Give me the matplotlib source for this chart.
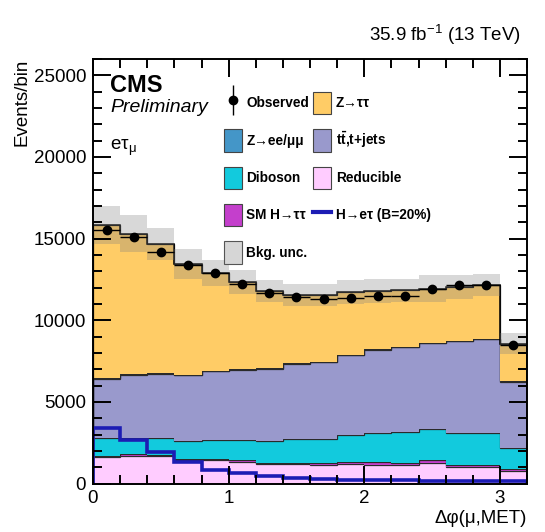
import numpy as np
import matplotlib
matplotlib.use("Agg")
import matplotlib.pyplot as plt
from matplotlib.patches import Patch
from matplotlib.lines import Line2D
from matplotlib.legend_handler import HandlerTuple
from matplotlib.ticker import MultipleLocator

plt.rcParams["font.family"] = ["Liberation Sans", "DejaVu Sans"]
plt.rcParams["mathtext.fontset"] = "custom"
plt.rcParams["mathtext.rm"] = "Liberation Sans"
plt.rcParams["mathtext.it"] = "Liberation Sans:italic"
plt.rcParams["mathtext.bf"] = "Liberation Sans:bold"
plt.rcParams["mathtext.default"] = "regular"

# bin edges of dphi(mu, MET)
edges = np.linspace(0, 3.2, 17)

# background processes, events per bin (stacked bottom -> top)
reducible = [1620, 1680, 1680, 1440, 1420, 1330, 1170, 1170, 1110, 1190, 1150, 1110, 1230, 1010, 1030, 760]
smh = [80, 120, 80, 80, 80, 110, 80, 100, 120, 120, 180, 160, 190, 140, 120, 130]
diboson = [1060, 1000, 1040, 1080, 1140, 1200, 1350, 1430, 1510, 1660, 1780, 1880, 1890, 1960, 1960, 1300]
ttbar = [3610, 3820, 3910, 4020, 4220, 4320, 4440, 4610, 4690, 4870, 5080, 5180, 5280, 5590, 5730, 4020]
zll = [100, 60, 50, 50, 40, 40, 40, 40, 40, 40, 40, 40, 40, 40, 40, 40]
ztt = [9340, 8620, 7930, 6800, 5990, 5340, 4710, 4180, 4100, 3850, 3560, 3460, 3310, 3300, 3280, 2320]

# background uncertainty (absolute)
bkg_unc = [1160, 1120, 980, 920, 820, 720, 700, 670, 670, 760, 710, 720, 810, 710, 650, 620]

# observed data
observed = [15550, 15100, 14180, 13360, 12920, 12240, 11670, 11410, 11330, 11370, 11470, 11470, 11910, 12140, 12180, 8490]

# LFV signal H -> e tau (B=20%)
signal = [3410, 2660, 1940, 1330, 840, 620, 440, 340, 280, 220, 200, 190, 180, 170, 160, 130]

TTBAR = r"t$\bar{t}$,t+jets"
stack = [
    (reducible, "#ffccff", "Reducible"),
    (smh, "#c43fcc", "SM H→ττ"),
    (diboson, "#12cadd", "Diboson"),
    (ttbar, "#9999cc", TTBAR),
    (zll, "#4496c8", "Z→ee/μμ"),
    (ztt, "#ffcc66", "Z→ττ"),
]

fig = plt.figure(figsize=(5.45, 5.32), dpi=100)
ax = fig.add_axes([93 / 545, 1 - 483.5 / 532, 434 / 545, (483.5 - 59) / 532])

base = np.zeros(len(edges) - 1)
handles = {}
for vals, color, label in stack:
    top = base + np.array(vals)
    ax.stairs(top, edges, baseline=base, fill=True, color=color)
    ax.stairs(top, edges, color="#2a2a2a", lw=0.9)
    handles[label] = Patch(facecolor=color, edgecolor="#444444", lw=0.8)
    base = top
total = base
ax.stairs(total, edges, color="black", lw=1.1)

unc = np.array(bkg_unc)
ax.stairs(total + unc, edges, baseline=total - unc, fill=True,
          color="#7f7f7f", alpha=0.3, lw=0)

ax.stairs(signal, edges, color="#1c1cb4", lw=2.6)

centers = 0.5 * (edges[1:] + edges[:-1])
obs = np.array(observed)
ax.errorbar(centers, obs, xerr=0.1, yerr=np.sqrt(obs), fmt="o", color="black",
            ms=6, elinewidth=1.0, capsize=0)

ax.set_xlim(0, 3.2)
ax.set_ylim(0, 26000)
ax.xaxis.set_major_locator(MultipleLocator(1))
ax.xaxis.set_minor_locator(MultipleLocator(0.2))
ax.yaxis.set_major_locator(MultipleLocator(5000))
ax.yaxis.set_minor_locator(MultipleLocator(1000))
ax.tick_params(which="both", direction="in", top=True, right=True, labelsize=13.5, width=1.4)
ax.tick_params(which="major", length=13, pad=5)
ax.tick_params(which="minor", length=6.5)
for s in ax.spines.values():
    s.set_linewidth(1.4)

ax.set_xlabel("Δφ(μ,MET)", fontsize=13.5, loc="right", labelpad=2)
ax.set_ylabel("Events/bin", fontsize=13.5, loc="top", labelpad=2)

ax.text(0.04, 0.965, "CMS", transform=ax.transAxes, fontsize=17, fontweight="bold",
        ha="left", va="top")
ax.text(0.04, 0.905, "Preliminary", transform=ax.transAxes, fontsize=14, style="italic",
        ha="left", va="top")
ax.text(0.04, 0.815, r"eτ$_{μ}$", transform=ax.transAxes, fontsize=13.5,
        ha="left", va="top")
fig.text(521 / 545, 1 - 35 / 532, r"35.9 fb$^{-1}$ (13 TeV)", fontsize=13.5,
         ha="right", va="center")

obs_handle = (Line2D([], [], marker="|", ms=22, color="black", ls="none", mew=1),
              Line2D([], [], marker="o", ms=6, color="black", ls="none"))
sig_handle = Line2D([], [], color="#1c1cb4", lw=3)
unc_handle = Patch(facecolor="#d6d6d6", edgecolor="#555555", lw=0.8)

leg_handles = [obs_handle, handles["Z→ee/μμ"], handles["Diboson"],
               handles["SM H→ττ"], unc_handle,
               handles["Z→ττ"], handles[TTBAR], handles["Reducible"], sig_handle]
leg_labels = ["Observed", "Z→ee/μμ", "Diboson", "SM H→ττ", "Bkg. unc.",
              "Z→ττ", r"t$\bar{t}$,t+jets", "Reducible", "H→eτ (B=20%)"]
leg = ax.legend(leg_handles, leg_labels, ncol=2, frameon=False,
                loc="upper left", bbox_to_anchor=(224 / 545, 1 - 92 / 532),
                bbox_transform=fig.transFigure,
                prop={"size": 9.8, "weight": "bold"},
                handlelength=1.3, handleheight=2.15, labelspacing=1.1,
                handletextpad=0.35, columnspacing=0.3, borderpad=0, borderaxespad=0,
                handler_map={tuple: HandlerTuple(ndivide=1)})

fig.savefig("out.png", dpi=100)
